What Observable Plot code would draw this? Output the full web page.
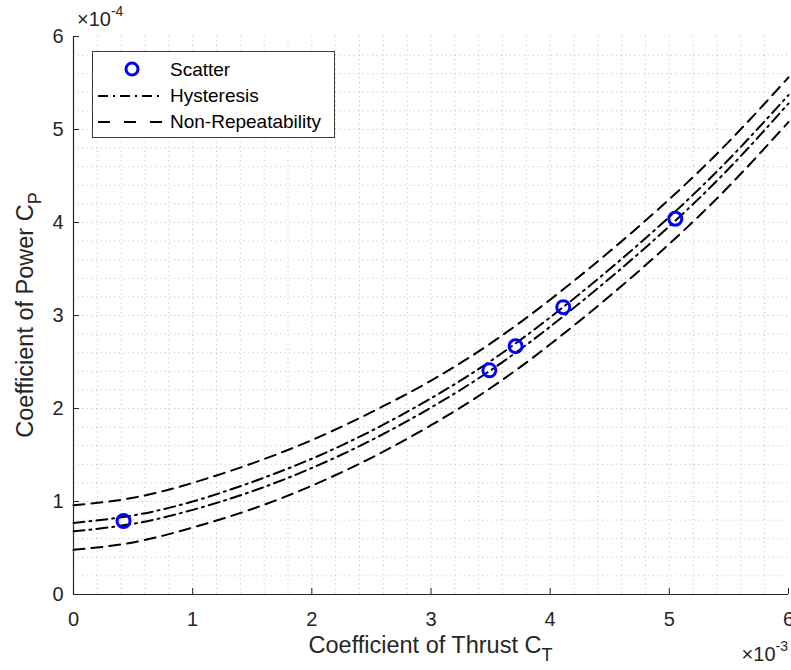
<!DOCTYPE html>
<html>
<head>
<meta charset="utf-8">
<script src="https://cdn.jsdelivr.net/npm/d3@7"></script>
<script src="https://cdn.jsdelivr.net/npm/@observablehq/plot@0.6"></script>
<style>
  html, body { margin: 0; padding: 0; background: white; }
  #chart svg { display: block; }
</style>
</head>
<body>
<div id="chart"></div>
<script>
// ---- data (C_T in 1e-3, C_P in 1e-4) ----
const scatterCT = [0.42, 3.49, 3.71, 4.11, 5.05];
const scatterCP = [0.79, 2.41, 2.67, 3.09, 4.04];

const curveCT      = [0, 0.5, 1, 1.5, 2, 2.5, 3, 3.5, 4, 4.5, 5, 5.5, 6];
const hystUpper    = [0.77, 0.85, 1.00, 1.21, 1.46, 1.76, 2.11, 2.51, 2.98, 3.50, 4.06, 4.68, 5.37];
const hystLower    = [0.68, 0.76, 0.91, 1.11, 1.36, 1.66, 2.01, 2.41, 2.88, 3.40, 3.96, 4.58, 5.28];
const nonRepUpper  = [0.96, 1.04, 1.20, 1.41, 1.66, 1.96, 2.30, 2.70, 3.17, 3.69, 4.25, 4.87, 5.56];
const nonRepLower  = [0.48, 0.56, 0.72, 0.92, 1.17, 1.47, 1.82, 2.22, 2.69, 3.21, 3.77, 4.39, 5.08];

const xTicks = [0, 1, 2, 3, 4, 5, 6];
const yTicks = [0, 1, 2, 3, 4, 5, 6];
const legendLabels = ["Scatter", "Hysteresis", "Non-Repeatability"];

// ---- tables ----
const scatter = scatterCT.map((x, i) => ({x, y: scatterCP[i]}));
const toRows = arr => curveCT.map((x, i) => ({x, y: arr[i]}));
const minorX = d3.range(1, 30).map(i => i / 5);
const minorY = d3.range(1, 30).map(i => i / 5);

const W = 791, H = 670, ML = 73, MR = 3, MT = 36, MB = 76;
const ink = "#262626";
const dashed = "11,7";
const dashdot = "11,5,2,5";

const chart = Plot.plot({
  width: W, height: H,
  marginLeft: ML, marginRight: MR, marginTop: MT, marginBottom: MB,
  x: {domain: [0, 6]},
  y: {domain: [0, 6]},
  style: {fontFamily: "'Liberation Sans', Arial, Helvetica, sans-serif", fontSize: "20px", color: ink, background: "white", overflow: "visible"},
  marks: [
    Plot.gridX(minorX, {stroke: "#bcbcbc", strokeOpacity: 1, strokeDasharray: "1,3.6", strokeWidth: 1}),
    Plot.gridY(minorY, {stroke: "#bcbcbc", strokeOpacity: 1, strokeDasharray: "1,3.6", strokeWidth: 1}),
    Plot.line(toRows(nonRepUpper), {x: "x", y: "y", curve: "natural", stroke: "black", strokeWidth: 2, strokeDasharray: dashed}),
    Plot.line(toRows(nonRepLower), {x: "x", y: "y", curve: "natural", stroke: "black", strokeWidth: 2, strokeDasharray: dashed}),
    Plot.line(toRows(hystUpper), {x: "x", y: "y", curve: "natural", stroke: "black", strokeWidth: 2, strokeDasharray: dashdot}),
    Plot.line(toRows(hystLower), {x: "x", y: "y", curve: "natural", stroke: "black", strokeWidth: 2, strokeDasharray: dashdot}),
    Plot.dot(scatter, {x: "x", y: "y", r: 6.5, stroke: "#0000ff", strokeWidth: 3, fill: "none"}),
    Plot.ruleY([0], {stroke: ink, strokeWidth: 1.2}),
    Plot.ruleX([0], {stroke: ink, strokeWidth: 1.2}),
    Plot.tickX(xTicks, {x: d => d, stroke: ink, insetTop: 552}),
    Plot.tickY(yTicks, {y: d => d, stroke: ink, insetRight: 709}),
    Plot.axisX(xTicks, {tickSize: 0, tickPadding: 17, fontSize: 20, fill: ink, label: null, tickFormat: d3.format("d")}),
    Plot.axisY(yTicks, {tickSize: 0, tickPadding: 10, fontSize: 20, fill: ink, label: null, tickFormat: d3.format("d")})
  ]
});
document.getElementById("chart").appendChild(chart);

const svg = d3.select(chart);
const ff = "'Liberation Sans', Arial, Helvetica, sans-serif";

// axis titles
const xt = svg.append("text").attr("x", (ML + W - MR) / 2).attr("y", 653)
  .attr("text-anchor", "middle").attr("font-family", ff).attr("font-size", 23.5).attr("fill", ink);
xt.append("tspan").text("Coefficient of Thrust C");
xt.append("tspan").attr("dy", 8).attr("font-size", 18).text("T");

const yt = svg.append("text").attr("transform", `translate(33,${(MT + H - MB) / 2}) rotate(-90)`)
  .attr("text-anchor", "middle").attr("font-family", ff).attr("font-size", 23.5).attr("fill", ink);
yt.append("tspan").text("Coefficient of Power C");
yt.append("tspan").attr("dy", 8).attr("font-size", 18).text("P");

// exponent labels
const e4 = svg.append("text").attr("x", 77).attr("y", 26).attr("text-anchor", "start")
  .attr("font-family", ff).attr("font-size", 20).attr("fill", ink);
e4.append("tspan").text("×10");
e4.append("tspan").attr("dy", -10).attr("font-size", 14).text("-4");

const e3 = svg.append("text").attr("x", 788).attr("y", 661).attr("text-anchor", "end")
  .attr("font-family", ff).attr("font-size", 20).attr("fill", ink);
e3.append("tspan").text("×10");
e3.append("tspan").attr("dy", -10).attr("font-size", 14).text("-3");

// legend
const lg = svg.append("g");
lg.append("rect").attr("x", 92.5).attr("y", 51.5).attr("width", 242).attr("height", 86)
  .attr("fill", "white").attr("stroke", "#3c3c3c").attr("stroke-width", 1);
lg.append("circle").attr("cx", 132).attr("cy", 69).attr("r", 6)
  .attr("fill", "none").attr("stroke", "#0000ff").attr("stroke-width", 3);
lg.append("line").attr("x1", 98).attr("x2", 162).attr("y1", 96).attr("y2", 96)
  .attr("stroke", "black").attr("stroke-width", 2).attr("stroke-dasharray", "10,5,2,5");
lg.append("line").attr("x1", 98).attr("x2", 162).attr("y1", 122).attr("y2", 122)
  .attr("stroke", "black").attr("stroke-width", 2).attr("stroke-dasharray", "12,14");
legendLabels.forEach((t, i) => {
  lg.append("text").attr("x", 170).attr("y", 76 + i * 26).attr("text-anchor", "start")
    .attr("font-family", ff).attr("font-size", 19).attr("fill", "black").text(t);
});
</script>
</body>
</html>
